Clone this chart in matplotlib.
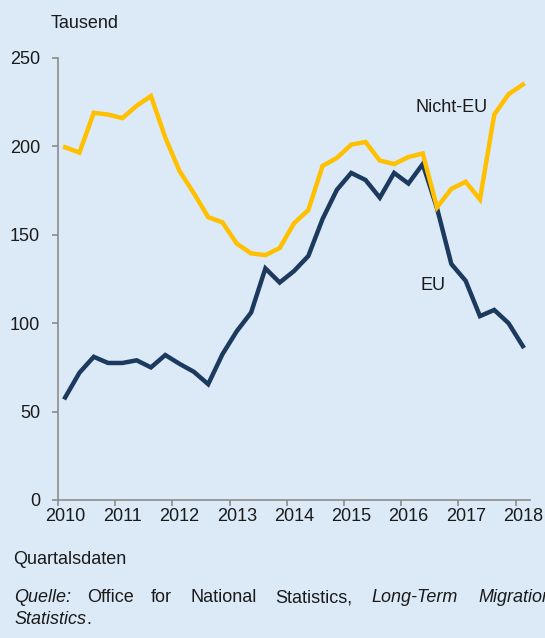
import matplotlib.pyplot as plt

# Quartalsdaten 2010 Q1 bis 2018 Q1 (Tausend)
quartale = [f"{j} Q{q}" for j in range(2010, 2019) for q in range(1, 5)][:33]
eu = [58, 72, 81, 77.5, 77.5, 79, 75, 82, 77, 72.5, 65.5, 82.5, 95.5, 106,
      131, 123, 129.5, 138, 159, 175.5, 185, 181, 171, 185, 179, 190,
      165, 133.5, 124, 104, 107.5, 100, 87]
nicht_eu = [199.5, 196.5, 219, 218, 216, 223, 228.5, 205, 186, 173.5, 160, 157,
            145, 139.5, 138.5, 142.5, 156.5, 164, 189, 193.5, 201, 202.5,
            192, 190, 194, 196, 165.5, 176, 180, 170, 218, 229.5, 235]
jahre = ["2010", "2011", "2012", "2013", "2014", "2015", "2016", "2017", "2018"]
y_ticks = [0, 50, 100, 150, 200, 250]

bg = "#DCE9F7"
navy = "#1B3A5E"
gelb = "#FFC000"
grau = "#8C8C8C"
txt = "#1A1A1A"

plt.rcParams['font.family'] = ['Liberation Sans', 'DejaVu Sans']

fig = plt.figure(figsize=(5.45, 6.38), dpi=100, facecolor=bg)
ax = fig.add_axes([58 / 545, 138 / 638, 472 / 545, 442 / 638])
ax.set_facecolor(bg)

x = list(range(len(quartale)))
ax.plot(x, eu, color=navy, linewidth=3.2, solid_joinstyle='miter', zorder=2)
ax.plot(x, nicht_eu, color=gelb, linewidth=3.2, solid_joinstyle='miter', zorder=3)

ax.set_xlim(-0.5, 32.5)
ax.set_ylim(0, 250)

# Achsen
for s in ['top', 'right']:
    ax.spines[s].set_visible(False)
for s in ['left', 'bottom']:
    ax.spines[s].set_color(grau)
    ax.spines[s].set_linewidth(1.2)

ax.set_yticks(y_ticks)
ax.set_yticklabels([str(v) for v in y_ticks])
ax.tick_params(axis='y', length=4, width=1.2, color=grau, pad=9,
               labelsize=13, labelcolor=txt)

ax.set_xticks([i * 4 for i in range(len(jahre))])
ax.set_xticklabels(jahre)
ax.set_xticks([i * 4 - 0.5 for i in range(len(jahre))], minor=True)
ax.tick_params(axis='x', which='major', length=0, pad=6, labelsize=13, labelcolor=txt)
ax.tick_params(axis='x', which='minor', length=4, width=1.2, color=grau)

# Beschriftungen
fig.text(51 / 545, 1 - 24 / 638, "Tausend", fontsize=13, color=txt, va='center')
fig.text(488 / 545, 1 - 107 / 638, "Nicht-EU", fontsize=13, color=txt,
         ha='right', va='center')
fig.text(420 / 545, 1 - 285 / 638, "EU", fontsize=13, color=txt, va='center')
fig.text(13 / 545, 1 - 559 / 638, "Quartalsdaten", fontsize=13, color=txt, va='center')

# Quelle (Blocksatz nachgebildet, rechts wie im Original abgeschnitten)
y1 = 1 - 598 / 638
woerter = [(14, "Quelle:", 'italic'), (87, "Office", 'normal'), (151, "for", 'normal'),
           (190, "National", 'normal'), (275, "Statistics,", 'normal'),
           (371, "Long-Term", 'italic'), (478, "Migration", 'italic')]
for px, w, st in woerter:
    fig.text(px / 545, y1, w, fontsize=13, style=st, color=txt, va='center')
y2 = 1 - 620 / 638
fig.text(14 / 545, y2, "Statistics", fontsize=13, style='italic', color=txt, va='center')
fig.text(86 / 545, y2, ".", fontsize=13, color=txt, va='center')

fig.savefig("out.png", dpi=100, facecolor=bg)
